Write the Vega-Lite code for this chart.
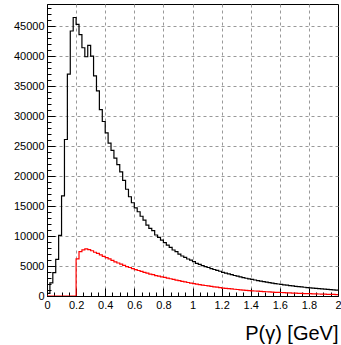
{
  "$schema": "https://vega.github.io/schema/vega-lite/v6.json",
  "width": 291,
  "height": 292,
  "autosize": {"type": "none"},
  "padding": {"left": 47, "top": 4, "right": 3, "bottom": 49},
  "background": "white",
  "config": {
    "view": {"stroke": "black", "strokeWidth": 1},
    "font": "Liberation Sans"
  },
  "datasets": {
    "all": [
      {"lo": 0.00, "v": 450}, {"lo": 0.02, "v": 2200}, {"lo": 0.04, "v": 3900}, {"lo": 0.06, "v": 6100}, {"lo": 0.08, "v": 10100},
      {"lo": 0.10, "v": 16700}, {"lo": 0.12, "v": 26100}, {"lo": 0.14, "v": 37000}, {"lo": 0.16, "v": 44200}, {"lo": 0.18, "v": 46450},
      {"lo": 0.20, "v": 45300}, {"lo": 0.22, "v": 43600}, {"lo": 0.24, "v": 41400}, {"lo": 0.26, "v": 39900}, {"lo": 0.28, "v": 41800},
      {"lo": 0.30, "v": 40000}, {"lo": 0.32, "v": 36700}, {"lo": 0.34, "v": 34200}, {"lo": 0.36, "v": 31100}, {"lo": 0.38, "v": 29100},
      {"lo": 0.40, "v": 27200}, {"lo": 0.42, "v": 25500}, {"lo": 0.44, "v": 24300}, {"lo": 0.46, "v": 23000}, {"lo": 0.48, "v": 21900},
      {"lo": 0.50, "v": 20700}, {"lo": 0.52, "v": 19300}, {"lo": 0.54, "v": 17800}, {"lo": 0.56, "v": 16550}, {"lo": 0.58, "v": 15550},
      {"lo": 0.60, "v": 14700}, {"lo": 0.62, "v": 14050}, {"lo": 0.64, "v": 13300}, {"lo": 0.66, "v": 12650}, {"lo": 0.68, "v": 11830},
      {"lo": 0.70, "v": 11280}, {"lo": 0.72, "v": 10900}, {"lo": 0.74, "v": 10170}, {"lo": 0.76, "v": 9780}, {"lo": 0.78, "v": 9330},
      {"lo": 0.80, "v": 8890}, {"lo": 0.82, "v": 8500}, {"lo": 0.84, "v": 8110}, {"lo": 0.86, "v": 7670}, {"lo": 0.88, "v": 7390},
      {"lo": 0.90, "v": 7000}, {"lo": 0.92, "v": 6670}, {"lo": 0.94, "v": 6450}, {"lo": 0.96, "v": 6170}, {"lo": 0.98, "v": 6000},
      {"lo": 1.00, "v": 5720}, {"lo": 1.02, "v": 5450}, {"lo": 1.04, "v": 5280}, {"lo": 1.06, "v": 5080}, {"lo": 1.08, "v": 4900},
      {"lo": 1.10, "v": 4750}, {"lo": 1.12, "v": 4560}, {"lo": 1.14, "v": 4420}, {"lo": 1.16, "v": 4260}, {"lo": 1.18, "v": 4130},
      {"lo": 1.20, "v": 3950}, {"lo": 1.22, "v": 3830}, {"lo": 1.24, "v": 3680}, {"lo": 1.26, "v": 3560}, {"lo": 1.28, "v": 3420},
      {"lo": 1.30, "v": 3300}, {"lo": 1.32, "v": 3190}, {"lo": 1.34, "v": 3070}, {"lo": 1.36, "v": 2960}, {"lo": 1.38, "v": 2870},
      {"lo": 1.40, "v": 2760}, {"lo": 1.42, "v": 2670}, {"lo": 1.44, "v": 2580}, {"lo": 1.46, "v": 2480}, {"lo": 1.48, "v": 2400},
      {"lo": 1.50, "v": 2310}, {"lo": 1.52, "v": 2240}, {"lo": 1.54, "v": 2150}, {"lo": 1.56, "v": 2080}, {"lo": 1.58, "v": 2000},
      {"lo": 1.60, "v": 1930}, {"lo": 1.62, "v": 1870}, {"lo": 1.64, "v": 1800}, {"lo": 1.66, "v": 1740}, {"lo": 1.68, "v": 1680},
      {"lo": 1.70, "v": 1620}, {"lo": 1.72, "v": 1560}, {"lo": 1.74, "v": 1510}, {"lo": 1.76, "v": 1460}, {"lo": 1.78, "v": 1410},
      {"lo": 1.80, "v": 1360}, {"lo": 1.82, "v": 1310}, {"lo": 1.84, "v": 1270}, {"lo": 1.86, "v": 1220}, {"lo": 1.88, "v": 1180},
      {"lo": 1.90, "v": 1140}, {"lo": 1.92, "v": 1100}, {"lo": 1.94, "v": 1060}, {"lo": 1.96, "v": 1020}, {"lo": 1.98, "v": 990},
      {"lo": 2.00, "v": 990}
    ],
    "sel": [
      {"lo": 0.00, "v": 0}, {"lo": 0.20, "v": 6200}, {"lo": 0.22, "v": 7400}, {"lo": 0.24, "v": 7700}, {"lo": 0.26, "v": 7850},
      {"lo": 0.28, "v": 7750}, {"lo": 0.30, "v": 7550}, {"lo": 0.32, "v": 7300}, {"lo": 0.34, "v": 7100}, {"lo": 0.36, "v": 6850},
      {"lo": 0.38, "v": 6600}, {"lo": 0.40, "v": 6400}, {"lo": 0.42, "v": 6200}, {"lo": 0.44, "v": 5950}, {"lo": 0.46, "v": 5700},
      {"lo": 0.48, "v": 5500}, {"lo": 0.50, "v": 5300}, {"lo": 0.52, "v": 5100}, {"lo": 0.54, "v": 4900}, {"lo": 0.56, "v": 4750},
      {"lo": 0.58, "v": 4550}, {"lo": 0.60, "v": 4400}, {"lo": 0.62, "v": 4250}, {"lo": 0.64, "v": 4100}, {"lo": 0.66, "v": 3950},
      {"lo": 0.68, "v": 3800}, {"lo": 0.70, "v": 3650}, {"lo": 0.72, "v": 3550}, {"lo": 0.74, "v": 3400}, {"lo": 0.76, "v": 3300},
      {"lo": 0.78, "v": 3200}, {"lo": 0.80, "v": 3100}, {"lo": 0.82, "v": 2980}, {"lo": 0.84, "v": 2880}, {"lo": 0.86, "v": 2780},
      {"lo": 0.88, "v": 2660}, {"lo": 0.90, "v": 2550}, {"lo": 0.92, "v": 2450}, {"lo": 0.94, "v": 2350}, {"lo": 0.96, "v": 2250},
      {"lo": 0.98, "v": 2150}, {"lo": 1.00, "v": 2050}, {"lo": 1.02, "v": 1980}, {"lo": 1.04, "v": 1900}, {"lo": 1.06, "v": 1820},
      {"lo": 1.08, "v": 1750}, {"lo": 1.10, "v": 1680}, {"lo": 1.12, "v": 1600}, {"lo": 1.14, "v": 1530}, {"lo": 1.16, "v": 1470},
      {"lo": 1.18, "v": 1400}, {"lo": 1.20, "v": 1330}, {"lo": 1.22, "v": 1280}, {"lo": 1.24, "v": 1230}, {"lo": 1.26, "v": 1180},
      {"lo": 1.28, "v": 1130}, {"lo": 1.30, "v": 1080}, {"lo": 1.32, "v": 1030}, {"lo": 1.34, "v": 990}, {"lo": 1.36, "v": 950},
      {"lo": 1.38, "v": 900}, {"lo": 1.40, "v": 860}, {"lo": 1.42, "v": 830}, {"lo": 1.44, "v": 800}, {"lo": 1.46, "v": 770},
      {"lo": 1.48, "v": 740}, {"lo": 1.50, "v": 710}, {"lo": 1.52, "v": 680}, {"lo": 1.54, "v": 650}, {"lo": 1.56, "v": 620},
      {"lo": 1.58, "v": 600}, {"lo": 1.60, "v": 580}, {"lo": 1.62, "v": 555}, {"lo": 1.64, "v": 530}, {"lo": 1.66, "v": 510},
      {"lo": 1.68, "v": 490}, {"lo": 1.70, "v": 470}, {"lo": 1.72, "v": 450}, {"lo": 1.74, "v": 430}, {"lo": 1.76, "v": 410},
      {"lo": 1.78, "v": 395}, {"lo": 1.80, "v": 380}, {"lo": 1.82, "v": 360}, {"lo": 1.84, "v": 345}, {"lo": 1.86, "v": 330},
      {"lo": 1.88, "v": 315}, {"lo": 1.90, "v": 300}, {"lo": 1.92, "v": 285}, {"lo": 1.94, "v": 270}, {"lo": 1.96, "v": 255},
      {"lo": 1.98, "v": 240}, {"lo": 2.00, "v": 240}
    ]
  },
  "encoding": {
    "x": {
      "field": "lo", "type": "quantitative",
      "scale": {"domain": [0, 2], "nice": false, "zero": false},
      "axis": {
        "values": [0, 0.05, 0.1, 0.15, 0.2, 0.25, 0.3, 0.35, 0.4, 0.45, 0.5, 0.55, 0.6, 0.65, 0.7, 0.75, 0.8, 0.85, 0.9, 0.95, 1, 1.05, 1.1, 1.15, 1.2, 1.25, 1.3, 1.35, 1.4, 1.45, 1.5, 1.55, 1.6, 1.65, 1.7, 1.75, 1.8, 1.85, 1.9, 1.95, 2],
        "labelExpr": "abs(datum.value*5 - round(datum.value*5)) < 0.001 ? format(datum.value, '~g') : ''",
        "labelFont": "Liberation Sans", "labelFontSize": 11, "labelColor": "black",
        "labelPadding": 11, "labelFlush": false, "labelOverlap": false,
        "tickSize": {"condition": {"test": "abs(datum.value*5 - round(datum.value*5)) < 0.001", "value": -8}, "value": -4},
        "tickColor": "black", "tickWidth": 1,
        "domainColor": "black",
        "grid": true,
        "gridDash": [3, 3], "gridColor": "#999999", "gridWidth": 1,
        "gridOpacity": {"condition": {"test": "abs(datum.value*5 - round(datum.value*5)) < 0.001 && datum.value > 0.01 && datum.value < 1.99", "value": 1}, "value": 0},
        "title": "P(γ) [GeV]",
        "titleFont": "Liberation Sans", "titleFontSize": 20, "titleFontWeight": "normal", "titleColor": "black",
        "titleAnchor": "end", "titleAlign": "right", "titleBaseline": "alphabetic",
        "titleX": 291, "titleY": 43
      }
    },
    "y": {
      "field": "v", "type": "quantitative",
      "scale": {"domain": [0, 48700], "nice": false},
      "axis": {
        "values": [0, 1000, 2000, 3000, 4000, 5000, 6000, 7000, 8000, 9000, 10000, 11000, 12000, 13000, 14000, 15000, 16000, 17000, 18000, 19000, 20000, 21000, 22000, 23000, 24000, 25000, 26000, 27000, 28000, 29000, 30000, 31000, 32000, 33000, 34000, 35000, 36000, 37000, 38000, 39000, 40000, 41000, 42000, 43000, 44000, 45000, 46000, 47000, 48000],
        "labelExpr": "datum.value % 5000 === 0 ? format(datum.value, 'd') : ''",
        "labelFont": "Liberation Sans", "labelFontSize": 11, "labelColor": "black",
        "labelPadding": 11, "labelFlush": false, "labelOverlap": false,
        "tickSize": {"condition": {"test": "datum.value % 5000 === 0", "value": -8}, "value": -4},
        "tickColor": "black", "tickWidth": 1,
        "domainColor": "black",
        "grid": true,
        "gridDash": [3, 3], "gridColor": "#999999", "gridWidth": 1,
        "gridOpacity": {"condition": {"test": "datum.value % 5000 === 0 && datum.value > 0", "value": 1}, "value": 0},
        "title": null
      }
    }
  },
  "layer": [
    {
      "data": {"name": "all"},
      "mark": {"type": "line", "interpolate": "step-after", "color": "black", "strokeWidth": 1.2, "clip": true}
    },
    {
      "data": {"name": "sel"},
      "mark": {"type": "line", "interpolate": "step-after", "color": "#ff0000", "strokeWidth": 1.2, "clip": true}
    }
  ]
}
